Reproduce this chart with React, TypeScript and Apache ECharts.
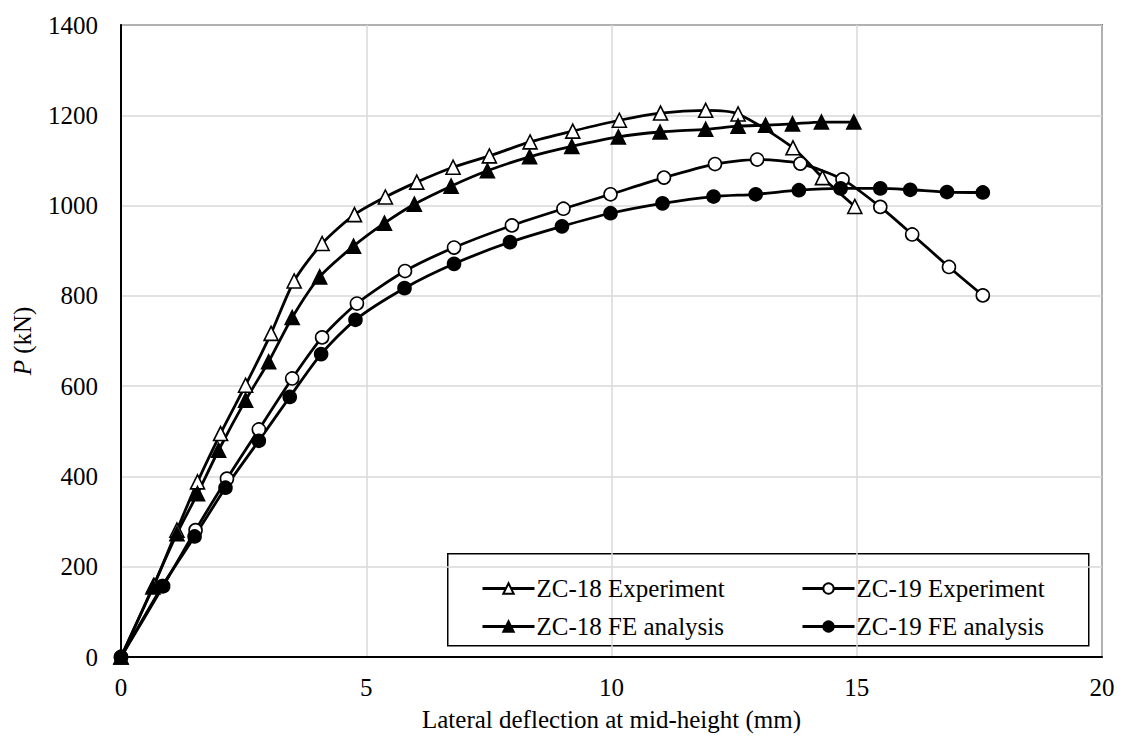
import React, { useEffect, useRef } from "react";
import * as echarts from "echarts";

const exp18X = [0, 0.67, 1.14, 1.56, 2.03, 2.54, 3.06, 3.53, 4.10, 4.76, 5.39, 6.03, 6.77, 7.51, 8.34, 9.21, 10.16, 11.0, 11.92, 12.58, 13.70, 14.30, 14.96];
const exp18Y = [0, 159, 281, 388, 495, 602, 717, 833, 916, 980, 1019, 1052, 1085, 1110, 1141, 1165, 1189, 1205, 1211, 1203, 1128, 1062, 998];

const fe18X = [0, 0.65, 1.14, 1.56, 1.99, 2.54, 3.01, 3.49, 4.05, 4.74, 5.37, 5.98, 6.73, 7.47, 8.33, 9.19, 10.14, 10.99, 11.92, 12.58, 13.14, 13.69, 14.28, 14.94];
const fe18Y = [0, 155, 273, 362, 458, 569, 654, 752, 842, 910, 961, 1003, 1043, 1077, 1108, 1131, 1152, 1163, 1169, 1176, 1178, 1181, 1185, 1185];

const exp19X = [0, 0.86, 1.52, 2.16, 2.81, 3.49, 4.10, 4.81, 5.79, 6.79, 7.97, 9.02, 9.98, 11.07, 12.11, 12.97, 13.85, 14.71, 15.48, 16.13, 16.88, 17.57];
const exp19Y = [0, 157, 281, 395, 504, 617, 708, 783, 855, 907, 956, 993, 1025, 1062, 1092, 1102, 1093, 1058, 997, 936, 864, 801];

const fe19X = [0, 0.84, 1.50, 2.13, 2.81, 3.44, 4.08, 4.78, 5.78, 6.79, 7.93, 8.99, 9.98, 11.04, 12.08, 12.94, 13.82, 14.67, 15.48, 16.09, 16.84, 17.57];
const fe19Y = [0, 157, 267, 375, 479, 576, 671, 747, 817, 871, 919, 954, 983, 1005, 1020, 1025, 1034, 1038, 1038, 1035, 1030, 1029];

const names = ["ZC-18 Experiment", "ZC-19 Experiment", "ZC-18 FE analysis", "ZC-19 FE analysis"];

const FONT = "'Liberation Serif', 'Times New Roman', serif";
const FS = 25;

function zip(xs: number[], ys: number[]) {
  return xs.map((x, i) => [x, ys[i]]);
}

export default function App() {
  const ref = useRef<HTMLDivElement>(null);
  useEffect(() => {
    if (!ref.current) return;
    const chart = echarts.init(ref.current, null, { renderer: "svg" });
    const mk = (name: string, data: number[][], symbol: string, filled: boolean, size: number) => ({
      name,
      type: "line",
      data,
      smooth: 0.25,
      symbol,
      symbolSize: size,
      showAllSymbol: true,
      lineStyle: { color: "#000", width: 2.8 },
      itemStyle: { color: filled ? "#000" : "#fff", borderColor: "#000", borderWidth: 1.6 },
      emphasis: { disabled: true },
    });
    const legendText = { fontFamily: FONT, fontSize: FS, color: "#000", padding: [0, 0, 0, -3] };
    const legendCommon = {
      orient: "vertical", top: 571,
      itemWidth: 52, itemHeight: 13, itemGap: 13,
      textStyle: legendText,
      lineStyle: { width: 3, color: "#000" },
      selectedMode: false,
    };
    chart.setOption({
      animation: false,
      backgroundColor: "#fff",
      textStyle: { fontFamily: FONT, color: "#000" },
      grid: {
        left: 121, right: 21, top: 25, bottom: 81,
        show: true, borderColor: "#000", borderWidth: 1.5, containLabel: false,
      },
      xAxis: {
        type: "value", min: 0, max: 20, interval: 5,
        name: "Lateral deflection at mid-height (mm)",
        nameLocation: "middle", nameGap: 50,
        nameTextStyle: { fontFamily: FONT, fontSize: FS, color: "#000" },
        axisLine: { show: true, lineStyle: { color: "#000", width: 2 } },
        axisTick: { show: false },
        axisLabel: { fontFamily: FONT, fontSize: FS, color: "#000", margin: 18, formatter: (v: number) => String(v) },
        splitLine: { show: true, lineStyle: { color: "#d9d9d9", width: 1.5 } },
      },
      yAxis: {
        type: "value", min: 0, max: 1400, interval: 200,
        name: "{i|P}{n| (kN)}",
        nameLocation: "middle", nameGap: 86, nameRotate: 90,
        nameTextStyle: {
          fontFamily: FONT, fontSize: FS, color: "#000",
          rich: {
            i: { fontFamily: FONT, fontSize: FS, fontStyle: "italic", color: "#000" },
            n: { fontFamily: FONT, fontSize: FS, color: "#000" },
          },
        },
        axisLine: { show: true, lineStyle: { color: "#000", width: 2 } },
        axisTick: { show: false },
        axisLabel: { fontFamily: FONT, fontSize: FS, color: "#000", margin: 23, formatter: (v: number) => String(v) },
        splitLine: { show: true, lineStyle: { color: "#d9d9d9", width: 1.5 } },
      },
      legend: [
        { ...legendCommon, data: [names[0], names[2]], left: 476 },
        { ...legendCommon, data: [names[1], names[3]], left: 796 },
      ],
      graphic: [
        {
          type: "rect", left: 447, top: 553, z: 0,
          shape: { width: 641, height: 92 },
          style: { fill: "#fff", stroke: "#000", lineWidth: 1.5 },
        },
      ],
      series: [
        mk(names[0], zip(exp18X, exp18Y), "triangle", false, 14),
        mk(names[2], zip(fe18X, fe18Y), "triangle", true, 14),
        mk(names[1], zip(exp19X, exp19Y), "circle", false, 13),
        mk(names[3], zip(fe19X, fe19Y), "circle", true, 13),
      ],
    });
    return () => chart.dispose();
  }, []);
  return <div ref={ref} style={{ width: 1123, height: 738, position: "absolute", left: 0, top: 0 }} />;
}
